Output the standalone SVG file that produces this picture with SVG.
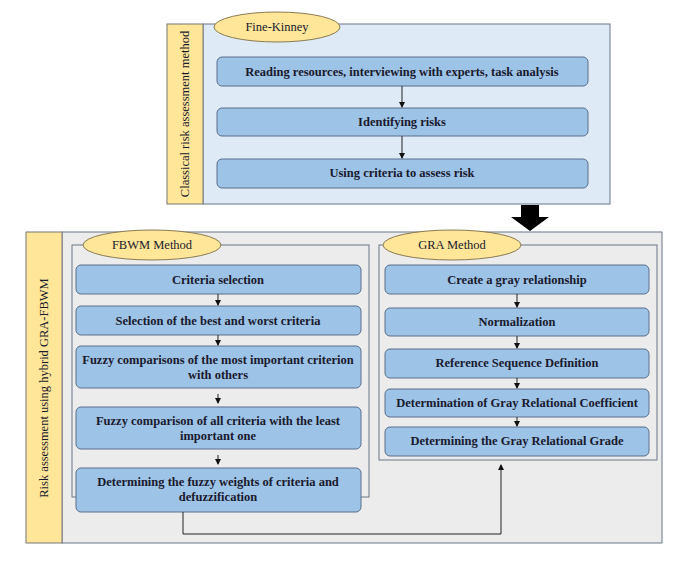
<svg xmlns="http://www.w3.org/2000/svg" width="685" height="561" viewBox="0 0 685 561">
<style>
text{font-family:"Liberation Serif",serif;fill:#1a1a2e;text-anchor:middle}
.b{font-weight:bold;font-size:12.5px}
.t{font-size:12.5px}
.box{fill:#9dc3e6;stroke:#5a6f8a;stroke-width:1}
.ell{fill:#ffe699;stroke:#8a7a50;stroke-width:1}
.strip{fill:#ffe699;stroke:#777;stroke-width:1}
.fr{fill:none;stroke:#6b7785;stroke-width:1}
.c{stroke:#222;stroke-width:1;fill:none}
</style>
<defs><marker id="a" markerWidth="6" markerHeight="6" refX="5" refY="3" orient="auto" markerUnits="userSpaceOnUse"><path d="M0,0L6,3L0,6z" fill="#111"/></marker></defs>
<g id="top">
<rect x="203" y="24" width="407" height="180" fill="#deebf7" stroke="#6b7785"/>
<rect class="strip" x="167" y="24" width="36" height="180"/>
<text class="t" transform="translate(189,114) rotate(-90)">Classical risk assessment method</text>
</g>
<g id="finekinney"><ellipse class="ell" cx="277" cy="27" rx="63" ry="15"/><text class="t" x="277" y="31">Fine-Kinney</text></g>
<g id="n1"><rect class="box" x="217" y="57" width="371" height="29" rx="5"/><text class="b" x="402" y="76">Reading resources, interviewing with experts, task analysis</text></g>
<g id="n2"><rect class="box" x="217" y="108" width="371" height="28" rx="5"/><text class="b" x="402" y="126">Identifying risks</text></g>
<g id="n3"><rect class="box" x="217" y="159" width="371" height="29" rx="5"/><text class="b" x="402" y="177">Using criteria to assess risk</text></g>
<g id="bottom">
<rect x="62" y="232" width="600" height="311" fill="#ececec" stroke="#6b7785"/>
<rect class="strip" x="26" y="232" width="36" height="311"/>
<text class="t" transform="translate(48,388) rotate(-90)">Risk assessment  using hybrid GRA-FBWM</text>
<rect class="fr" x="72" y="245" width="297" height="252"/>
<rect class="fr" x="379" y="245" width="278" height="215"/>
</g>
<g id="fbwm"><ellipse class="ell" cx="152" cy="245" rx="69" ry="15"/><text class="t" x="152" y="249">FBWM Method</text></g>
<g id="gra"><ellipse class="ell" cx="452" cy="245" rx="69" ry="15"/><text class="t" x="452" y="249">GRA Method</text></g>
<g id="f1"><rect class="box" x="76" y="265" width="285" height="29" rx="5"/><text class="b" x="218" y="284">Criteria selection</text></g>
<g id="f2"><rect class="box" x="76" y="306" width="285" height="29" rx="5"/><text class="b" x="218" y="325">Selection of the best and worst criteria</text></g>
<g id="f3"><rect class="box" x="76" y="346" width="285" height="42" rx="5"/><text class="b" x="218" y="364">Fuzzy comparisons of the most important criterion</text><text class="b" x="218" y="379">with others</text></g>
<g id="f4"><rect class="box" x="76" y="407" width="285" height="42" rx="5"/><text class="b" x="218" y="425">Fuzzy comparison of all criteria with the least</text><text class="b" x="218" y="440">important one</text></g>
<g id="f5"><rect class="box" x="76" y="468" width="285" height="44" rx="5"/><text class="b" x="218" y="486">Determining the fuzzy weights of criteria and</text><text class="b" x="218" y="501">defuzzification</text></g>
<g id="g1"><rect class="box" x="385" y="265" width="264" height="29" rx="5"/><text class="b" x="517" y="284">Create a gray relationship</text></g>
<g id="g2"><rect class="box" x="385" y="308" width="264" height="28" rx="5"/><text class="b" x="517" y="326">Normalization</text></g>
<g id="g3"><rect class="box" x="385" y="349" width="264" height="29" rx="5"/><text class="b" x="517" y="367">Reference Sequence Definition</text></g>
<g id="g4"><rect class="box" x="385" y="389" width="264" height="28" rx="5"/><text class="b" x="517" y="407">Determination of Gray Relational Coefficient</text></g>
<g id="g5"><rect class="box" x="385" y="427" width="264" height="29" rx="5"/><text class="b" x="517" y="445">Determining the Gray Relational Grade</text></g>
<g id="connectors">
<line class="c" x1="402" y1="86" x2="402" y2="107" marker-end="url(#a)"/>
<line class="c" x1="402" y1="136" x2="402" y2="158" marker-end="url(#a)"/>
<path d="M521,205h18v12h10l-19,14l-19,-14h10z" fill="#000"/>
<line class="c" x1="218" y1="294" x2="218" y2="305" marker-end="url(#a)"/>
<line class="c" x1="218" y1="335" x2="218" y2="345" marker-end="url(#a)"/>
<line class="c" x1="218" y1="394" x2="218" y2="403" marker-end="url(#a)"/>
<line class="c" x1="218" y1="455" x2="218" y2="464" marker-end="url(#a)"/>
<line class="c" x1="517" y1="294" x2="517" y2="307" marker-end="url(#a)"/>
<line class="c" x1="517" y1="336" x2="517" y2="348" marker-end="url(#a)"/>
<line class="c" x1="517" y1="378" x2="517" y2="388" marker-end="url(#a)"/>
<line class="c" x1="517" y1="417" x2="517" y2="426" marker-end="url(#a)"/>
<path class="c" d="M183,512V534H501V465" marker-end="url(#a)"/>
</g>
</svg>
